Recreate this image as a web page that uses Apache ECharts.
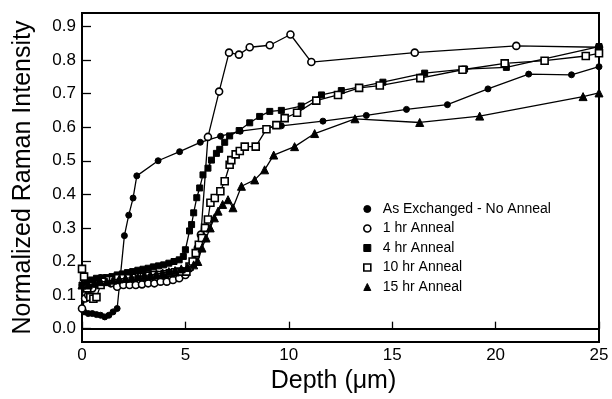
<!DOCTYPE html>
<html>
<head>
<meta charset="utf-8">
<script src="https://cdn.jsdelivr.net/npm/echarts@6/dist/echarts.min.js"></script>
<style>
  html, body { margin: 0; padding: 0; background: #fff; }
  #chart { width: 612px; height: 399px; }
</style>
</head>
<body>
<div id="chart"></div>
<script>
// Depth profiles of normalized Raman intensity for each anneal time
const seriesNames = ['As Exchanged - No Anneal', '1 hr Anneal', '4 hr Anneal', '10 hr Anneal', '15 hr Anneal'];

const asExchangedX = [0, 0.1, 0.3, 0.5, 0.7, 0.9, 1.1, 1.3, 1.5, 1.7, 2.05, 2.26, 2.47, 2.65, 3.68, 4.72, 5.72, 6.7, 7.65, 9.64, 11.65, 13.75, 15.69, 17.67, 19.63, 21.6, 23.67, 25];
const asExchangedY = [0.13, 0.05, 0.045, 0.045, 0.042, 0.04, 0.035, 0.04, 0.05, 0.06, 0.277, 0.338, 0.389, 0.455, 0.5, 0.527, 0.555, 0.573, 0.588, 0.604, 0.618, 0.635, 0.653, 0.667, 0.714, 0.758, 0.756, 0.78];

const oneHrX = [0, 0.15, 0.3, 0.5, 0.7, 0.9, 1.1, 1.4, 1.7, 2.0, 2.3, 2.6, 2.9, 3.2, 3.5, 3.8, 4.1, 4.4, 4.7, 5.0, 5.2, 5.4, 5.6, 5.75, 6.09, 6.63, 7.11, 7.59, 8.11, 9.08, 10.08, 11.09, 16.09, 21.0, 25];
const oneHrY = [0.06, 0.09, 0.1, 0.12, 0.14, 0.15, 0.15, 0.135, 0.125, 0.13, 0.13, 0.13, 0.132, 0.135, 0.135, 0.14, 0.14, 0.145, 0.15, 0.16, 0.18, 0.2, 0.24, 0.28, 0.571, 0.706, 0.822, 0.816, 0.838, 0.844, 0.876, 0.794, 0.822, 0.842, 0.838];

const fourHrX = [0, 0.2, 0.45, 0.7, 0.95, 1.2, 1.45, 1.7, 1.95, 2.2, 2.45, 2.7, 2.95, 3.2, 3.45, 3.7, 3.95, 4.2, 4.45, 4.7, 4.9, 5.0, 5.2, 5.3, 5.4, 5.55, 5.69, 5.85, 6.09, 6.26, 6.5, 6.66, 6.9, 7.14, 7.6, 8.11, 8.59, 9.08, 9.64, 10.6, 11.58, 12.54, 14.55, 16.57, 18.5, 20.52, 25];
const fourHrY = [0.13, 0.14, 0.145, 0.15, 0.15, 0.152, 0.155, 0.16, 0.163, 0.167, 0.17, 0.174, 0.177, 0.18, 0.184, 0.187, 0.19, 0.195, 0.2, 0.205, 0.215, 0.235, 0.291, 0.31, 0.345, 0.39, 0.419, 0.458, 0.478, 0.502, 0.522, 0.534, 0.555, 0.574, 0.59, 0.613, 0.632, 0.647, 0.65, 0.663, 0.696, 0.709, 0.734, 0.761, 0.773, 0.778, 0.84];

const tenHrX = [0, 0.1, 0.25, 0.4, 0.55, 0.7, 0.9, 1.1, 1.3, 1.5, 1.75, 2.0, 2.25, 2.5, 2.75, 3.0, 3.25, 3.5, 3.75, 4.0, 4.25, 4.5, 4.75, 5.05, 5.2, 5.35, 5.5, 5.65, 5.8, 5.95, 6.09, 6.21, 6.42, 6.69, 6.9, 7.14, 7.22, 7.43, 7.63, 7.87, 8.4, 8.92, 9.4, 9.8, 10.4, 11.33, 12.38, 13.4, 14.4, 16.36, 18.4, 20.44, 22.37, 24.36, 25];
const tenHrY = [0.178, 0.155, 0.12, 0.094, 0.089, 0.094, 0.13, 0.14, 0.145, 0.145, 0.15, 0.15, 0.15, 0.152, 0.155, 0.155, 0.158, 0.16, 0.16, 0.162, 0.165, 0.168, 0.17, 0.17, 0.185, 0.2, 0.225, 0.25, 0.27, 0.3, 0.325, 0.375, 0.389, 0.409, 0.439, 0.488, 0.502, 0.519, 0.529, 0.542, 0.542, 0.594, 0.606, 0.627, 0.643, 0.679, 0.696, 0.717, 0.724, 0.746, 0.771, 0.79, 0.798, 0.812, 0.82];

const fifteenHrX = [0, 0.3, 0.6, 0.9, 1.2, 1.5, 1.8, 2.1, 2.4, 2.7, 3.0, 3.3, 3.6, 3.9, 4.2, 4.5, 4.8, 5.1, 5.4, 5.6, 5.8, 6.0, 6.2, 6.4, 6.58, 6.8, 7.06, 7.3, 7.71, 8.35, 8.83, 9.27, 10.28, 11.25, 13.2, 16.33, 19.23, 24.23, 25];
const fifteenHrY = [0.13, 0.13, 0.135, 0.14, 0.14, 0.145, 0.148, 0.15, 0.152, 0.155, 0.158, 0.16, 0.163, 0.166, 0.17, 0.173, 0.178, 0.182, 0.19, 0.2, 0.24, 0.27, 0.3, 0.33, 0.35, 0.37, 0.384, 0.36, 0.424, 0.443, 0.473, 0.517, 0.542, 0.581, 0.625, 0.614, 0.633, 0.691, 0.702];

const xTicks = [0, 5, 10, 15, 20, 25];
const yTicks = [0.0, 0.1, 0.2, 0.3, 0.4, 0.5, 0.6, 0.7, 0.8, 0.9];

const FONT = '"Liberation Sans", Arial, Helvetica, sans-serif';

function pairs(xs, ys) {
  return xs.map((x, i) => [x, ys[i]]);
}

const solid = { color: '#000', borderColor: '#000', borderWidth: 1 };
const hollow = { color: '#fff', borderColor: '#000', borderWidth: 1.6 };

const styles = [
  { symbol: 'circle', size: 6, item: solid },
  { symbol: 'circle', size: 7, item: hollow },
  { symbol: 'rect', size: 6, item: solid },
  { symbol: 'rect', size: 7, item: hollow },
  { symbol: 'triangle', size: 8, item: solid }
];

const dataSets = [
  pairs(asExchangedX, asExchangedY),
  pairs(oneHrX, oneHrY),
  pairs(fourHrX, fourHrY),
  pairs(tenHrX, tenHrY),
  pairs(fifteenHrX, fifteenHrY)
];

const series = seriesNames.map((name, i) => ({
  name: name,
  type: 'line',
  data: dataSets[i],
  symbol: styles[i].symbol,
  symbolSize: styles[i].size,
  showAllSymbol: true,
  lineStyle: { color: '#000', width: 1.3 },
  itemStyle: styles[i].item,
  emphasis: { disabled: true },
  animation: false,
  z: 2 + i
}));

const chart = echarts.init(document.getElementById('chart'), null, { renderer: 'canvas' });

chart.setOption({
  backgroundColor: '#fff',
  animation: false,
  textStyle: { fontFamily: FONT, color: '#000' },
  grid: {
    left: 82, right: 13, top: 13, bottom: 54,
    show: true, borderColor: '#000', borderWidth: 2, backgroundColor: 'transparent'
  },
  legend: {
    orient: 'vertical',
    left: 358, top: 197,
    itemWidth: 7, itemHeight: 7,
    itemGap: 5.5,
    textStyle: { fontFamily: FONT, fontSize: 14, color: '#000', lineHeight: 14, padding: [0, 0, 0, 7] },
    data: seriesNames.map((name, i) => ({
      name: name,
      icon: styles[i].symbol,
      itemStyle: styles[i].item
    }))
  },
  xAxis: {
    type: 'value',
    min: 0, max: 25, interval: 5,
    name: 'Depth (\u03bcm)',
    nameLocation: 'middle',
    nameGap: 26,
    nameTextStyle: { fontFamily: FONT, fontSize: 25, color: '#000', padding: [0, 14, 0, 0] },
    axisLine: { show: true, lineStyle: { color: '#000', width: 2 } },
    axisTick: { show: true, inside: true, length: 7, lineStyle: { color: '#000', width: 1.3 } },
    axisLabel: { fontFamily: FONT, fontSize: 17, color: '#000', margin: 5,
      customValues: xTicks },
    splitLine: { show: false }
  },
  yAxis: {
    type: 'value',
    min: -0.04, max: 0.94,
    name: 'Normalized Raman Intensity',
    nameLocation: 'middle',
    nameRotate: 90,
    nameGap: 46,
    nameTextStyle: { fontFamily: FONT, fontSize: 25, color: '#000' },
    axisLine: { show: true, lineStyle: { color: '#000', width: 2 } },
    axisTick: { show: true, inside: true, length: 9, lineStyle: { color: '#000', width: 1.3 },
      customValues: yTicks },
    axisLabel: { fontFamily: FONT, fontSize: 17, color: '#000', margin: 6,
      customValues: yTicks,
      formatter: v => v.toFixed(1) },
    splitLine: { show: false }
  },
  series: series
});
</script>
</body>
</html>
